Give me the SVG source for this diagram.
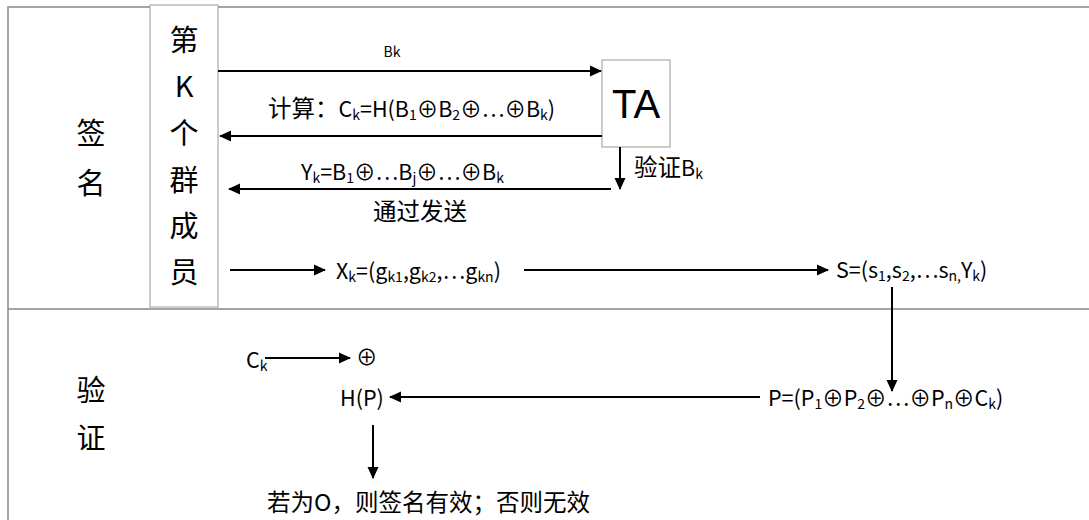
<svg xmlns="http://www.w3.org/2000/svg" width="1089" height="520" viewBox="0 0 1089 520">
<defs>
<marker id="ah" markerWidth="12" markerHeight="12" refX="11" refY="6" orient="auto" markerUnits="userSpaceOnUse">
<path d="M0,0.5 L12,6 L0,11.5 z" fill="#000"/>
</marker>
<style>
text{font-family:"Noto Sans CJK SC","Noto Sans",sans-serif;fill:#000}
.f{font-size:21.5px}
.cj{font-size:23.5px}
.s{font-size:14px}
.big{font-size:29px}
.c{stroke:#000;stroke-width:2;fill:none;marker-end:url(#ah)}
.frame{stroke:#888;stroke-width:1.5;fill:none}
.box{stroke:#999;stroke-width:1;fill:#fff}
</style>
</defs>
<rect width="1089" height="520" fill="#fff"/>
<g id="frame">
<path class="frame" d="M1089,7 H8 V520 M8,309 H1089"/>
</g>
<g id="lane-labels">
<text class="big" x="91" y="144" text-anchor="middle">签</text>
<text class="big" x="91" y="194" text-anchor="middle">名</text>
<text class="big" x="91" y="401" text-anchor="middle">验</text>
<text class="big" x="91" y="449" text-anchor="middle">证</text>
</g>
<g id="member">
<rect class="box" x="150" y="5" width="68" height="302"/>
<text class="big" x="184" y="51" text-anchor="middle">第</text>
<text class="big" x="184" y="97" text-anchor="middle">K</text>
<text class="big" x="184" y="144" text-anchor="middle">个</text>
<text class="big" x="184" y="191" text-anchor="middle">群</text>
<text class="big" x="184" y="237" text-anchor="middle">成</text>
<text class="big" x="184" y="283" text-anchor="middle">员</text>
</g>
<g id="ta">
<rect class="box" x="602" y="60" width="68" height="87"/>
<text x="636" y="118" text-anchor="middle" style="font-family:'Liberation Sans',sans-serif;font-size:40px">TA</text>
</g>
<g id="connectors">
<line class="c" x1="218" y1="71" x2="601" y2="71"/>
<line class="c" x1="602" y1="136" x2="220" y2="136"/>
<line class="c" x1="611" y1="189" x2="229" y2="189"/>
<line class="c" x1="620" y1="147" x2="620" y2="189"/>
<line class="c" x1="230" y1="270" x2="325" y2="270"/>
<line class="c" x1="524" y1="270" x2="828" y2="270"/>
<line class="c" x1="892" y1="287" x2="892" y2="391"/>
<line class="c" x1="760" y1="397" x2="390" y2="397"/>
<line class="c" x1="265" y1="358" x2="350" y2="358"/>
<line class="c" x1="373" y1="425" x2="373" y2="478"/>
</g>
<g id="labels">
<text class="s" x="392" y="57" text-anchor="middle">Bk</text>
<text class="f" x="268" y="117"><tspan class="cj">计算：</tspan>C<tspan class="s" dy="3">k</tspan><tspan dy="-3">=H(B</tspan><tspan class="s" dy="3">1</tspan><tspan dy="-3">⊕B</tspan><tspan class="s" dy="3">2</tspan><tspan dy="-3">⊕…⊕B</tspan><tspan class="s" dy="3">k</tspan><tspan dy="-3">)</tspan></text>
<text class="f" x="301" y="180">Y<tspan class="s" dy="3">k</tspan><tspan dy="-3">=B</tspan><tspan class="s" dy="3">1</tspan><tspan dy="-3">⊕…B</tspan><tspan class="s" dy="3">j</tspan><tspan dy="-3">⊕…⊕B</tspan><tspan class="s" dy="3">k</tspan></text>
<text class="cj" x="420" y="220" text-anchor="middle">通过发送</text>
<text class="f" x="634" y="176"><tspan class="cj">验证</tspan>B<tspan class="s" dy="3">k</tspan></text>
<text class="f" x="336" y="279">X<tspan class="s" dy="3">k</tspan><tspan dy="-3">=(g</tspan><tspan class="s" dy="3">k1</tspan><tspan dy="-3">,g</tspan><tspan class="s" dy="3">k2</tspan><tspan dy="-3">,…g</tspan><tspan class="s" dy="3">kn</tspan><tspan dy="-3">)</tspan></text>
<text class="f" x="836" y="278">S=(s<tspan class="s" dy="3">1</tspan><tspan dy="-3">,s</tspan><tspan class="s" dy="3">2</tspan><tspan dy="-3">,…s</tspan><tspan class="s" dy="3">n,</tspan><tspan dy="-3">Y</tspan><tspan class="s" dy="3">k</tspan><tspan dy="-3">)</tspan></text>
<text class="f" x="246" y="368">C<tspan class="s" dy="3">k</tspan></text>
<text class="f" x="356" y="365">⊕</text>
<text class="f" x="340" y="406">H(P)</text>
<text class="f" x="768" y="406">P=(P<tspan class="s" dy="3">1</tspan><tspan dy="-3">⊕P</tspan><tspan class="s" dy="3">2</tspan><tspan dy="-3">⊕…⊕P</tspan><tspan class="s" dy="3">n</tspan><tspan dy="-3">⊕C</tspan><tspan class="s" dy="3">k</tspan><tspan dy="-3">)</tspan></text>
<text class="cj" x="267" y="511">若为O，则签名有效；否则无效</text>
</g>
</svg>
